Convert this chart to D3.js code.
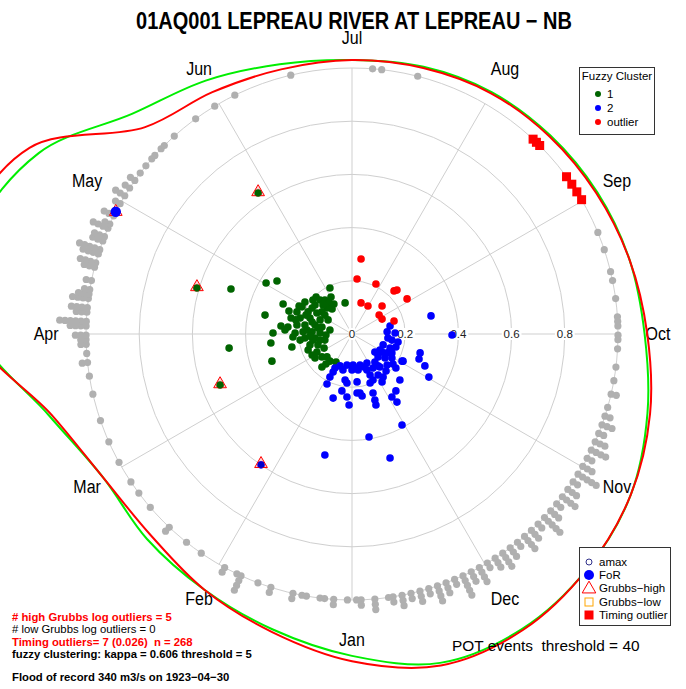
<!DOCTYPE html>
<html><head><meta charset="utf-8">
<script src="https://cdn.jsdelivr.net/npm/d3@7"></script>
<style>
body{margin:0;background:#fff}
svg{display:block}
text{font-family:"Liberation Sans",Arial,Helvetica,sans-serif}
</style>
</head><body>
<svg id="chart" width="686" height="689"></svg>
<script>
// ---------------- DATA ----------------
const title = "01AQ001 LEPREAU RIVER AT LEPREAU \u2212 NB";
const months = ["Jan","Feb","Mar","Apr","May","Jun","Jul","Aug","Sep","Oct","Nov","Dec"];
const ringTicks = [0.2, 0.4, 0.6, 0.8, 1.0];
const ringLabels = ["0", "0.2", "0.4", "0.6", "0.8"];
const ringLabelValues = [0, 0.2, 0.4, 0.6, 0.8];

// Fuzzy cluster 1 (green) : [x, y] on the unit circle
const cluster1 = [[-0.323,0.192],[-0.282,0.199],[-0.455,0.169],[-0.327,0.071],[-0.259,0.113],[-0.267,0.030],
[-0.297,0.004],[-0.305,-0.034],[-0.226,-0.049],[-0.462,-0.053],[-0.301,-0.102],[-0.083,0.173],[-0.026,0.117],
[-0.113,-0.124],[-0.135,0.139],[-0.177,0.120],[-0.120,0.128],[-0.102,0.128],[-0.086,0.117],[-0.094,0.098],
[-0.075,0.094],[-0.139,0.109],[-0.188,0.102],[-0.207,0.083],[-0.165,0.083],[-0.113,0.083],[-0.102,0.071],
[-0.229,0.060],[-0.195,0.060],[-0.158,0.060],[-0.120,0.053],[-0.241,0.026],[-0.207,0.034],[-0.177,0.034],
[-0.139,0.034],[-0.113,0.026],[-0.214,0.004],[-0.184,0.008],[-0.150,0.008],[-0.120,0.004],[-0.222,-0.011],
[-0.177,-0.015],[-0.139,-0.015],[-0.120,-0.023],[-0.158,-0.041],[-0.128,-0.041],[-0.165,-0.060],[-0.132,-0.068],
[-0.150,-0.079],[-0.139,-0.090],[-0.113,-0.086],[-0.094,-0.086],[-0.083,-0.102],[-0.102,-0.023],[-0.132,0.079],
[-0.109,0.109],[-0.150,0.098],
[-0.147,0.128],[-0.079,0.139],[-0.068,0.113],[-0.090,0.053],[-0.083,0.015],[-0.098,-0.004],[-0.195,-0.023],
[-0.150,0.045],[-0.169,0.015],[-0.128,0.023],[-0.211,0.053],[-0.105,-0.053],[-0.147,-0.023],[-0.060,-0.105],
[-0.098,-0.113],[-0.173,0.071],[-0.199,0.105],[-0.237,0.086],[-0.252,0.015],[-0.158,-0.008],
[-0.353,0.530],[-0.583,0.173],[-0.496,-0.192]];
// Fuzzy cluster 2 (blue)
const cluster2 = [[0.143,0.030],[0.132,0.008],[0.162,0.004],[0.150,-0.023],[0.173,-0.030],[0.117,-0.041],
[0.143,-0.053],[0.113,-0.068],[0.132,-0.071],[0.150,-0.071],[0.098,-0.086],[0.124,-0.090],[0.150,-0.090],
[0.188,-0.102],[0.256,-0.071],[0.252,-0.094],[0.274,-0.120],[0.289,-0.162],[0.086,-0.105],[0.056,-0.109],
[0.030,-0.117],[0.004,-0.117],[-0.019,-0.117],[-0.045,-0.120],[-0.064,-0.128],[-0.071,-0.143],[-0.034,-0.135],
[0.000,-0.135],[0.023,-0.135],[0.056,-0.135],[0.079,-0.128],[0.105,-0.124],[0.132,-0.117],[0.165,-0.128],
[0.068,-0.154],[0.098,-0.154],[0.117,-0.162],[0.079,-0.173],[0.113,-0.180],[0.068,-0.184],[0.180,-0.173],
[-0.083,-0.162],[-0.094,-0.188],[-0.026,-0.173],[-0.019,-0.184],[0.019,-0.180],[-0.038,-0.214],[0.030,-0.222],
[0.079,-0.222],[0.165,-0.214],[-0.071,-0.241],[-0.019,-0.237],[0.038,-0.233],[0.150,-0.237],[0.169,-0.256],
[-0.011,-0.267],[0.086,-0.248],[0.090,-0.267],[0.188,-0.342],[0.297,0.068],[0.376,-0.004],[-0.102,-0.455],
[0.064,-0.387],[0.143,-0.466],[0.192,-0.102],[0.019,-0.222],[0.011,-0.128],[0.045,-0.124],[0.098,-0.120],
[0.128,-0.139],[0.154,-0.113],[0.135,-0.015],[0.105,-0.060],[0.165,-0.049],[0.086,-0.068],
[-0.342,-0.492]];
// Outlier cluster (red)
const clusterOut = [[0.034,0.282],[0.019,0.207],[0.090,0.188],[0.158,0.162],[0.169,0.165],[0.207,0.132],
[0.034,0.117],[0.060,0.105],[0.113,0.105],[0.102,0.071],[0.113,0.056],[0.158,0.049]];
// Grubbs-high annual maxima: [x, y, cluster]
const grubbsHigh = [[-0.353,0.530,1],[-0.583,0.173,1],[-0.496,-0.192,1],[-0.342,-0.492,2]];

// POT events: day of year and number of events on that day
const potDays = [1,4,6,7,10,11,13,18,21,25,26,29,35,39,44,50,54,57,
 62,67,72,78,82,85,87,89,90,91,93,94,96,97,99,100,101,103,106,107,109,110,112,113,115,116,118,121,123,125,127,
 129,131,133,134,136,137,140,146,151,156,169,187,189,197,
 251,255,260,262,266,270,271,272,274,275,277,
 281,284,287,290,292,294,296,298,300,302,304,306,308,310,312,314,316,318,320,322,324,326,328,330,332,334,
 336,338,340,342,344,346,348,350,352,354,356,357,360,363,364];
const potCounts = [1,2,1,1,1,1,2,2,1,4,1,2,1,1,2,1,1,1,
 1,1,1,1,1,2,1,2,2,3,4,6,3,4,4,3,2,2,3,4,4,5,3,3,4,2,3,2,3,2,2,
 1,1,1,1,1,1,1,1,1,1,1,1,1,1,
 1,1,1,1,1,1,1,1,1,1,1,
 1,1,2,1,2,3,2,3,4,2,3,5,2,3,4,2,3,5,2,3,4,2,3,4,3,2,
 4,3,5,2,3,4,2,3,2,3,2,1,3,2,1];
const timingDays = [226,227,228,237,239,241,243];
const forDay = 119;

// Circular density of POT timing (radius in unit-circle units), every 15 degrees from Jan 1
const densAngles = [0,15,30,45,60,75,90,105,120,135,150,165,180,195,210,225,240,255,270,285,300,315,330,345];
const densRed   = [1.23,1.16,1.11,1.07,1.08,1.17,1.42,1.50,1.40,1.10,1.05,1.03,1.03,1.035,1.045,1.05,1.06,1.08,1.11,1.16,1.21,1.25,1.285,1.29];
const densGreen = [1.21,1.15,1.11,1.09,1.08,1.18,1.40,1.46,1.36,1.17,1.10,1.05,1.03,1.04,1.05,1.055,1.065,1.08,1.10,1.15,1.21,1.25,1.28,1.28];

const notes = [
 {t:"# high Grubbs log outliers = 5", c:"#ff0000", w:"bold"},
 {t:"# low Grubbs log outliers = 0", c:"#000", w:"normal"},
 {t:"Timing outliers= 7 (0.026)  n = 268", c:"#ff0000", w:"bold"},
 {t:"fuzzy clustering: kappa = 0.606 threshold = 5", c:"#000", w:"bold"},
 {t:"Flood of record 340 m3/s on 1923\u221204\u221230", c:"#000", w:"bold"}];

// ---------------- DRAW ----------------
const svg = d3.select("#chart");
const cx = 352, cy = 334, R = 266;
const rS = d3.scaleLinear().domain([0,1]).range([0,R]);
const xS = d3.scaleLinear().domain([-1,1]).range([cx-R, cx+R]);
const yS = d3.scaleLinear().domain([-1,1]).range([cy+R, cy-R]);
const dayA = d3.scaleLinear().domain([0,365]).range([0, 2*Math.PI]);
const degA = d3.scaleLinear().domain([0,360]).range([0, 2*Math.PI]);
const px = (th, rad) => cx - rS(rad)*Math.sin(th);
const py = (th, rad) => cy + rS(rad)*Math.cos(th);

const grid = "#cfcfcf";
svg.append("g").selectAll("circle").data(ringTicks).join("circle")
 .attr("cx",cx).attr("cy",cy).attr("r",d=>rS(d)).attr("fill","none").attr("stroke",grid).attr("stroke-width",1);
svg.append("g").selectAll("line").data(months).join("line")
 .attr("x1",cx).attr("y1",cy)
 .attr("x2",(d,i)=>px(degA(i*30),1)).attr("y2",(d,i)=>py(degA(i*30),1))
 .attr("stroke",grid).attr("stroke-width",1);
const rl = svg.append("g").selectAll("g").data(ringLabelValues).join("g")
 .attr("transform",d=>`translate(${xS(d)},${cy})`);
rl.append("rect").attr("x",(d,i)=>-ringLabels[i].length*3.3).attr("y",-6).attr("width",(d,i)=>ringLabels[i].length*6.6).attr("height",12).attr("fill","#fff");
rl.append("text").text((d,i)=>ringLabels[i]).attr("text-anchor","middle").attr("dy","0.36em")
 .attr("font-size",11.5).attr("fill","#222");

svg.append("g").selectAll("text").data(months).join("text")
 .attr("transform",(d,i)=>`translate(${px(degA(i*30),1.15)},${Math.max(py(degA(i*30),1.15),38)}) scale(1,1.1)`)
 .attr("text-anchor","middle").attr("dy","0.36em").attr("font-size",16).attr("fill","#000").text(d=>d);

const dens = (arr)=>densAngles.map((a,i)=>({a:degA(a)+Math.PI, r:arr[i]}));
const radial = d3.lineRadial().angle(d=>d.a).radius(d=>rS(d.r)).curve(d3.curveCatmullRomClosed.alpha(0.5));
svg.append("path").attr("d",radial(dens(densGreen))).attr("transform",`translate(${cx},${cy})`)
 .attr("fill","none").attr("stroke","#00ee00").attr("stroke-width",2);
svg.append("path").attr("d",radial(dens(densRed))).attr("transform",`translate(${cx},${cy})`)
 .attr("fill","none").attr("stroke","#ff0000").attr("stroke-width",2);

const pot = [];
potDays.forEach((d,i)=>{ for(let k=0;k<potCounts[i];k++) pot.push({day:d, r:1+k*0.02}); });
svg.append("g").selectAll("circle").data(pot).join("circle")
 .attr("cx",d=>px(dayA(d.day),d.r)).attr("cy",d=>py(dayA(d.day),d.r)).attr("r",3.6).attr("fill","#b0b0b0");

const drawPts = (arr,col)=>svg.append("g").selectAll("circle").data(arr).join("circle")
 .attr("cx",d=>xS(d[0])).attr("cy",d=>yS(d[1])).attr("r",3.8).attr("fill",col);
drawPts(cluster1,"#006400");
drawPts(cluster2,"#0000ff");
drawPts(clusterOut,"#ff0000");

const tri = d3.symbol().type(d3.symbolTriangle).size(70);
svg.append("g").selectAll("path").data(grubbsHigh).join("path")
 .attr("d",tri).attr("transform",d=>`translate(${xS(d[0])},${yS(d[1])-1})`)
 .attr("fill","rgba(255,0,0,0.18)").attr("stroke","#ff0000").attr("stroke-width",1);
svg.append("g").selectAll("circle").data(grubbsHigh).join("circle")
 .attr("cx",d=>xS(d[0])).attr("cy",d=>yS(d[1])).attr("r",3.2)
 .attr("fill",d=>d[2]===2?"#0000cc":"#006400");

svg.append("path").attr("d",tri).attr("transform",`translate(${px(dayA(forDay),1)},${py(dayA(forDay),1)})`)
 .attr("fill","none").attr("stroke","#ff0000");
svg.append("circle").attr("cx",px(dayA(forDay),1)).attr("cy",py(dayA(forDay),1)).attr("r",5.2).attr("fill","#0000ff");

svg.append("g").selectAll("rect").data(timingDays).join("rect")
 .attr("x",d=>px(dayA(d),1)-4.5).attr("y",d=>py(dayA(d),1)-4.5).attr("width",9).attr("height",9).attr("fill","#ff0000");

svg.append("text").attr("transform","translate(354,29) scale(1,1.18)").attr("text-anchor","middle").attr("font-size",20)
 .attr("font-weight","bold").text(title);

const lg = svg.append("g");
lg.append("rect").attr("x",579.5).attr("y",67.5).attr("width",75).attr("height",67).attr("fill","#fff").attr("stroke","#333");
lg.append("text").attr("x",617).attr("y",80).attr("text-anchor","middle").attr("font-size",11.5).text("Fuzzy Cluster");
const fz = [["1","#006400"],["2","#0000ff"],["outlier","#ff0000"]];
fz.forEach((f,i)=>{
  lg.append("circle").attr("cx",598).attr("cy",94+i*14).attr("r",3).attr("fill",f[1]);
  lg.append("text").attr("x",607).attr("y",98+i*14).attr("font-size",11.5).text(f[0]);
});

const lg2 = svg.append("g");
lg2.append("rect").attr("x",579.5).attr("y",547.5).attr("width",91).attr("height",78).attr("fill","#fff").attr("stroke","#333");
const ly = [562,575,588,602,615];
const ltxt = ["amax","FoR","Grubbs\u2212high","Grubbs\u2212low","Timing outlier"];
lg2.append("circle").attr("cx",589).attr("cy",ly[0]).attr("r",3).attr("fill","none").attr("stroke","#30308a");
lg2.append("circle").attr("cx",589).attr("cy",ly[1]).attr("r",5).attr("fill","#0000ff");
lg2.append("path").attr("d",d3.symbol().type(d3.symbolTriangle).size(80)).attr("transform",`translate(589,${ly[2]+1})`).attr("fill","none").attr("stroke","#ff0000");
lg2.append("rect").attr("x",585).attr("y",ly[3]-4).attr("width",8).attr("height",8).attr("fill","none").attr("stroke","#ffa500");
lg2.append("rect").attr("x",584.5).attr("y",ly[4]-4.5).attr("width",9).attr("height",9).attr("fill","#ff0000");
ltxt.forEach((t,i)=>lg2.append("text").attr("x",599).attr("y",ly[i]+4).attr("font-size",11.5).text(t));

const nb = [621,633,646,658,681];
notes.forEach((n,i)=>svg.append("text").attr("x",12).attr("y",nb[i]).attr("font-size",11.3)
 .attr("font-weight",n.w).attr("fill",n.c).style("white-space","pre").text(n.t));

svg.append("text").attr("x",452).attr("y",651).attr("font-size",15.4).style("white-space","pre")
 .text("POT events  threshold = 40");
</script>
</body></html>
